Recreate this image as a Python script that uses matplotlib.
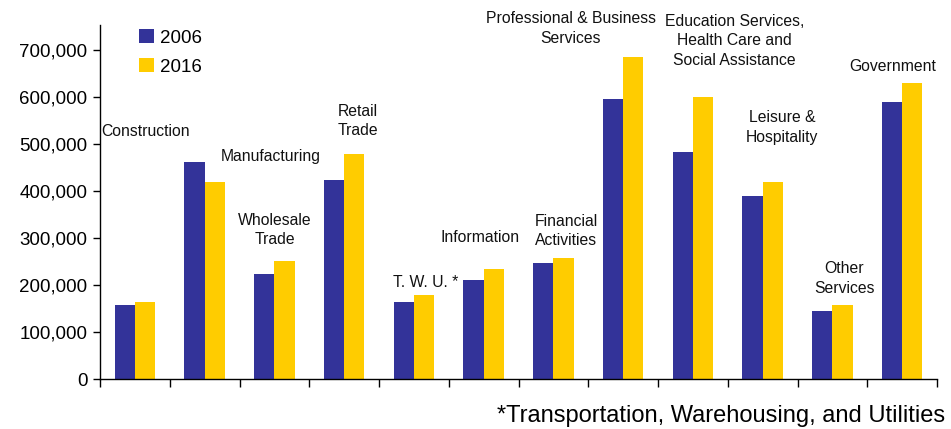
import matplotlib
matplotlib.use("Agg")
import matplotlib.pyplot as plt
import numpy as np
from matplotlib.ticker import FuncFormatter, FixedLocator

plt.rcParams['font.family'] = ['Liberation Sans', 'DejaVu Sans']

categories = ["Construction", "Manufacturing", "Wholesale\nTrade", "Retail\nTrade",
              "T. W. U. *", "Information", "Financial\nActivities",
              "Professional & Business\nServices",
              "Education Services,\nHealth Care and\nSocial Assistance",
              "Leisure &\nHospitality", "Other\nServices", "Government"]
values_2006 = [157000, 462000, 223000, 423000, 164000, 211000, 247000, 596000, 483000, 389000, 145000, 589000]
values_2016 = [164000, 419000, 251000, 479000, 179000, 234000, 257000, 685000, 600000, 419000, 157000, 630000]
series_names = ["2006", "2016"]
yticks = [0, 100000, 200000, 300000, 400000, 500000, 600000, 700000]
footnote = "*Transportation, Warehousing, and Utilities"

# label anchor positions (category-unit x, data y)
label_x = [0.15, 1.95, 2.01, 3.2, 4.17, 4.95, 6.18, 6.25, 8.6, 9.28, 10.17, 10.87]
label_y = [527000, 474000, 317000, 549000, 206000, 302000, 315000, 745000, 719000, 535000, 214000, 664000]

blue = "#333399"
yellow = "#FFCC00"

fig = plt.figure(figsize=(9.51, 4.29), dpi=100)
ax = fig.add_axes([100/951, 50/429, 837/951, 354/429])

x = np.arange(len(categories))
w = 0.29
ax.bar(x - w/2, values_2006, width=w, color=blue, label=series_names[0])
ax.bar(x + w/2, values_2016, width=w, color=yellow, label=series_names[1])

ax.set_xlim(-0.5, len(categories) - 0.5)
ax.set_ylim(0, 753000)
ax.yaxis.set_major_locator(FixedLocator(yticks))
ax.yaxis.set_major_formatter(FuncFormatter(lambda v, p: f"{int(v):,}"))
ax.set_xticks(np.arange(len(categories) + 1) - 0.5)
ax.set_xticklabels([])
ax.tick_params(axis='y', direction='out', length=5, width=1, labelsize=13.5, colors='black', pad=4)
ax.tick_params(axis='x', direction='out', length=6, width=1)
for s in ['top', 'right']:
    ax.spines[s].set_visible(False)
ax.spines['left'].set_linewidth(1)
ax.spines['bottom'].set_linewidth(1)

for cat, lx, ly in zip(categories, label_x, label_y):
    ax.text(lx, ly, cat, ha='center', va='center', fontsize=11.3, linespacing=1.4, color='#111111')

leg = ax.legend(loc='upper left', bbox_to_anchor=(0.027, 1.035), frameon=False, fontsize=13.5,
                handlelength=0.75, handleheight=0.75, handletextpad=0.35, labelspacing=0.6)

fig.text(945/951, 1 - 416/429, footnote, ha='right', va='center', fontsize=17)

fig.savefig("out.png", dpi=100)
